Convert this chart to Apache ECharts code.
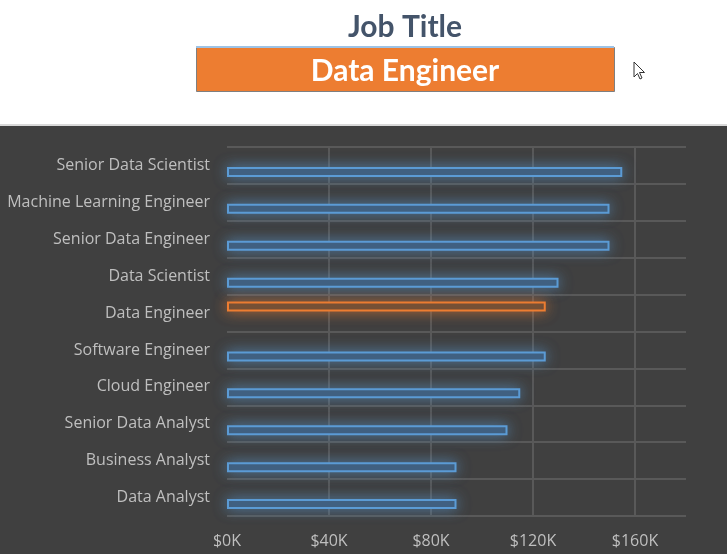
<!DOCTYPE html>
<html>
<head>
<meta charset="utf-8">
<script src="https://cdn.jsdelivr.net/npm/echarts@6/dist/echarts.min.js"></script>
<style>
  html, body { margin: 0; padding: 0; background: #fff; }
  #chart { width: 727px; height: 554px; }
</style>
</head>
<body>
<div id="chart"></div>
<script>
// job titles, top to bottom
const jobTitles = [
  'Senior Data Scientist',
  'Machine Learning Engineer',
  'Senior Data Engineer',
  'Data Scientist',
  'Data Engineer',
  'Software Engineer',
  'Cloud Engineer',
  'Senior Data Analyst',
  'Business Analyst',
  'Data Analyst'
]
// median salary per title (USD)
const salaries = [155000, 150000, 150000, 130000, 125000, 125000, 115000, 110000, 90000, 90000]
const selectedTitle = 'Data Engineer'
const xTicks = [0, 40000, 80000, 120000, 160000]

const FONT = '"Open Sans", sans-serif'
const TITLE_FONT = 'Lato, sans-serif'

// split into normal / highlighted series
const otherData = salaries.map((v, i) => (jobTitles[i] === selectedTitle ? '-' : v))
const selectedData = salaries.map((v, i) => (jobTitles[i] === selectedTitle ? v : '-'))

const option = {
  backgroundColor: '#404040',
  animation: false,
  graphic: [
    // white slicer area on top
    { type: 'rect', left: 0, top: 0, shape: { width: 727, height: 124 }, style: { fill: '#ffffff' }, z: 0 },
    { type: 'rect', left: 0, top: 124, shape: { width: 727, height: 2 }, style: { fill: '#d9d9d9' }, z: 0 },
    {
      type: 'text', x: 405, y: 27,
      style: { text: 'Job Title', fill: '#44546a', font: 'bold 30px ' + TITLE_FONT, align: 'center', verticalAlign: 'middle' }
    },
    {
      type: 'rect', left: 196, top: 47,
      shape: { width: 418, height: 44 },
      style: { fill: '#ed7d31', stroke: '#7f7f7f', lineWidth: 1 }
    },
    { type: 'rect', left: 196, top: 46, shape: { width: 418, height: 2 }, style: { fill: '#9dc3e6' } },
    {
      type: 'text', x: 405, y: 71,
      style: { text: 'Data Engineer', fill: '#ffffff', font: 'bold 30px ' + TITLE_FONT, align: 'center', verticalAlign: 'middle' }
    },
    // mouse pointer
    {
      type: 'polygon', x: 634, y: 62,
      shape: { points: [[0, 0], [0, 15], [3.5, 11.5], [6, 17], [8, 16], [5.5, 10.5], [10.5, 10.5]] },
      style: { fill: '#ffffff', stroke: '#333333', lineWidth: 1 }
    }
  ],
  grid: { left: 227, right: 41, top: 147, bottom: 38, containLabel: false },
  xAxis: {
    type: 'value',
    min: 0,
    max: 180000,
    interval: 40000,
    axisLine: { show: false },
    axisTick: { show: false },
    axisLabel: {
      color: '#bfbfbf',
      fontSize: 16,
      fontFamily: FONT,
      margin: 17,
      showMaxLabel: false,
      formatter: v => (xTicks.indexOf(v) >= 0 ? '$' + v / 1000 + 'K' : '')
    },
    splitLine: {
      lineStyle: {
        width: 2,
        color: ['rgba(0,0,0,0)', '#595959', '#595959', '#595959', '#595959', 'rgba(0,0,0,0)']
      }
    }
  },
  yAxis: {
    type: 'category',
    data: jobTitles,
    inverse: true,
    axisLine: { show: false },
    axisTick: { show: false },
    axisLabel: { color: '#bfbfbf', fontSize: 16, fontFamily: FONT, margin: 17, padding: [3, 0, 0, 0] },
    splitLine: { show: true, lineStyle: { color: '#595959', width: 2 } }
  },
  series: [
    {
      name: 'Selected',
      type: 'bar',
      data: selectedData,
      barWidth: 10,
      barGap: '30%',
      itemStyle: {
        color: '#654a37',
        borderColor: '#ed7d31',
        borderWidth: 2,
        shadowBlur: 14,
        shadowColor: 'rgba(237,125,49,0.65)'
      }
    },
    {
      name: 'Other',
      type: 'bar',
      data: otherData,
      barWidth: 10,
      itemStyle: {
        color: '#3d5875',
        borderColor: '#5b9bd5',
        borderWidth: 2,
        shadowBlur: 14,
        shadowColor: 'rgba(91,155,213,0.65)'
      }
    }
  ]
}

const chart = echarts.init(document.getElementById('chart'))
chart.setOption(option)
</script>
</body>
</html>
